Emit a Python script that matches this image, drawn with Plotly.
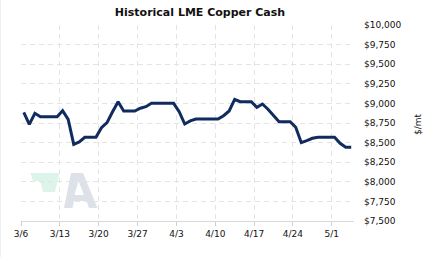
import pandas as pd
import plotly.graph_objects as go

# ---- data ----
start_date = "2023-03-06"
prices = [8886, 8733, 8874, 8830, 8830, 8830, 8830, 8907, 8797, 8478,
          8508, 8568, 8568, 8568, 8690, 8754, 8894, 9022, 8903, 8903,
          8903, 8938, 8958, 9001, 9001, 9001, 9001, 9001, 8894, 8737,
          8776, 8801, 8800, 8800, 8800, 8800, 8843, 8903, 9052, 9022,
          9022, 9022, 8950, 8992, 8925, 8848, 8767, 8767, 8767, 8695,
          8499, 8524, 8555, 8568, 8568, 8568, 8568, 8491, 8440, 8440]
tick_dates = ["2023-03-06", "2023-03-13", "2023-03-20", "2023-03-27", "2023-04-03",
              "2023-04-10", "2023-04-17", "2023-04-24", "2023-05-01"]
tick_labels = ["3/6", "3/13", "3/20", "3/27", "4/3", "4/10", "4/17", "4/24", "5/1"]
y_ticks = [7500, 7750, 8000, 8250, 8500, 8750, 9000, 9250, 9500, 9750, 10000]
y_labels = ["$7,500", "$7,750", "$8,000", "$8,250", "$8,500", "$8,750",
            "$9,000", "$9,250", "$9,500", "$9,750", "$10,000"]

dates = pd.date_range(start_date, periods=len(prices), freq="D") + pd.Timedelta(hours=12)

W, H = 423, 257
L, R, T, B = 21, 69, 25, 36
PW, PH = W - L - R, H - T - B

def px(x, y):
    return (x - L) / PW, (H - B - y) / PH

def path(pts):
    s = ""
    for i, (x, y) in enumerate(pts):
        a, b = px(x, y)
        s += ("M" if i == 0 else "L") + f"{a:.4f},{b:.4f} "
    return s + "Z"

green = [(30.5, 173), (59.5, 173), (55, 192), (43, 192), (40, 181), (33, 181)]
a_outer = [(64, 208), (71, 173), (83, 173), (97.5, 208), (89, 208), (86.5, 201),
           (74, 201), (72.5, 208)]
a_inner = [(74.5, 195), (84, 195), (78.5, 181)]

fig = go.Figure()
fig.add_trace(go.Scatter(x=dates, y=prices, mode="lines",
                         line=dict(color="#112b5f", width=3), hoverinfo="skip"))

fig.add_shape(type="path", path=path(green), xref="paper", yref="paper",
              fillcolor="#ddf4ea", line=dict(width=0), layer="below")
fig.add_shape(type="path", path=path(a_outer) + " " + path(list(reversed(a_inner))),
              xref="paper", yref="paper",
              fillcolor="#dde1e8", line=dict(width=0), layer="below")
# faint left border
x0, _ = px(0.5, 0)
fig.add_shape(type="line", xref="paper", yref="paper", x0=x0, x1=x0, y0=px(0, 0)[1],
              y1=px(0, H)[1], line=dict(color="#efefef", width=1))

font = "DejaVu Sans"
fig.update_layout(
    width=W, height=H, margin=dict(l=L, r=R, t=T, b=B),
    paper_bgcolor="white", plot_bgcolor="white", showlegend=False,
    title=dict(text="<b>Historical LME Copper Cash</b>", x=200 / W, xanchor="center",
               y=1 - 12.5 / H, yanchor="middle",
               font=dict(family=font, size=11, color="#111")),
    xaxis=dict(range=["2023-03-06", "2023-05-05"], tickvals=tick_dates, ticktext=tick_labels,
               showgrid=True, gridcolor="#e4e4e4", griddash="5px,4px", gridwidth=1,
               showline=True, linecolor="#d8d8d8", linewidth=1,
               ticks="outside", ticklen=4, tickcolor="#d0d0d0",
               tickfont=dict(family=font, size=9, color="#111"), zeroline=False),
    yaxis=dict(range=[7500, 10000], side="right", tickvals=y_ticks, ticktext=y_labels,
               showgrid=True, gridcolor="#e4e4e4", griddash="5px,4px", gridwidth=1,
               showline=False, ticks="", ticklabelstandoff=9,
               tickfont=dict(family=font, size=9, color="#111"), zeroline=False),
    annotations=[dict(text="$/mt", xref="paper", yref="paper", x=px(418, 0)[0],
                      y=px(0, 124)[1], showarrow=False, textangle=-90,
                      font=dict(family=font, size=9, color="#111"),
                      xanchor="center", yanchor="middle")],
)

fig.write_html("out.html")
